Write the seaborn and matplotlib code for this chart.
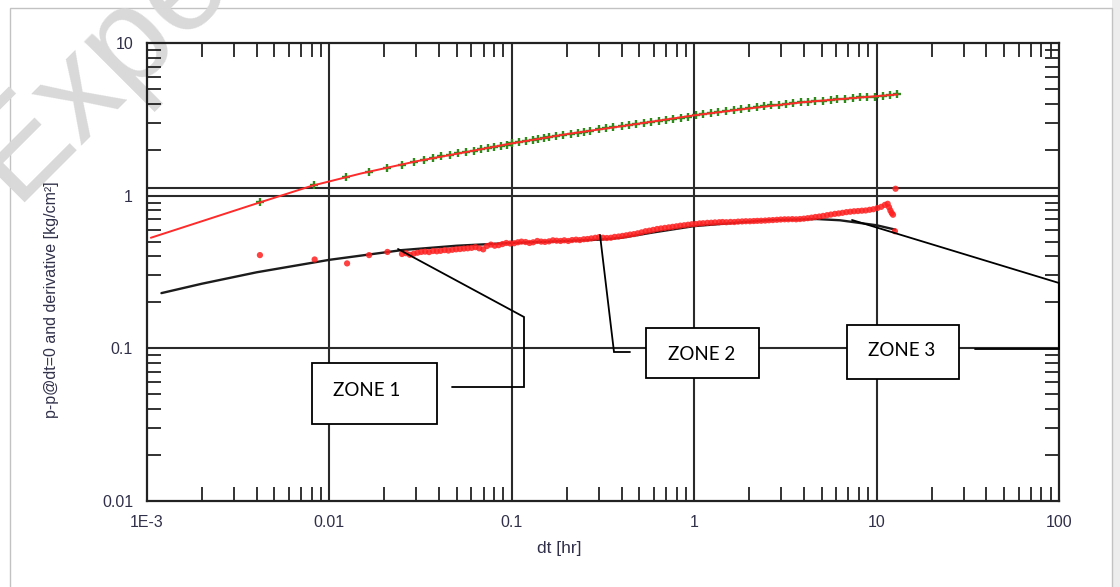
import numpy as np
import matplotlib
matplotlib.use("Agg")
import matplotlib.pyplot as plt
import seaborn as sns
from matplotlib.lines import Line2D
from matplotlib.patches import Rectangle
from matplotlib.ticker import FixedLocator, FixedFormatter, LogLocator, NullFormatter

# ---------------- data ----------------
# pressure change data (green +)
press_dt = [0.00416, 0.00824, 0.0124, 0.0165, 0.0206, 0.0249, 0.029, 0.033, 0.037, 0.041,
            0.046, 0.051, 0.056, 0.062, 0.068, 0.074, 0.080, 0.087, 0.094, 0.10,
            0.11, 0.12, 0.13, 0.14, 0.15, 0.16, 0.175, 0.19, 0.21, 0.23,
            0.25, 0.27, 0.30, 0.33, 0.36, 0.40, 0.44, 0.48, 0.53, 0.58,
            0.64, 0.70, 0.77, 0.85, 0.93, 1.02, 1.12, 1.23, 1.35, 1.5,
            1.65, 1.8, 2.0, 2.2, 2.4, 2.65, 2.9, 3.2, 3.5, 3.85,
            4.2, 4.6, 5.1, 5.6, 6.1, 6.7, 7.4, 8.1, 8.9, 9.8,
            10.8, 11.8, 13.0]
press_val = [0.91, 1.17, 1.33, 1.42, 1.52, 1.60, 1.67, 1.72, 1.77, 1.81,
             1.85, 1.89, 1.93, 1.97, 2.01, 2.05, 2.08, 2.12, 2.16, 2.20,
             2.24, 2.28, 2.32, 2.35, 2.39, 2.42, 2.46, 2.50, 2.55, 2.59,
             2.63, 2.67, 2.72, 2.76, 2.80, 2.85, 2.90, 2.94, 2.99, 3.03,
             3.08, 3.13, 3.18, 3.24, 3.30, 3.36, 3.41, 3.46, 3.51, 3.57,
             3.62, 3.67, 3.73, 3.79, 3.84, 3.90, 3.95, 4.00, 4.04, 4.08,
             4.12, 4.16, 4.20, 4.24, 4.28, 4.32, 4.36, 4.40, 4.43, 4.46,
             4.50, 4.54, 4.60]

# pressure model (red line)
pmodel_dt = [0.00105, 0.002, 0.004, 0.008, 0.015, 0.03, 0.06, 0.1, 0.2, 0.4, 1.0, 2.0, 4.0, 8.0, 13.0]
pmodel_val = [0.53, 0.68, 0.89, 1.16, 1.40, 1.68, 1.96, 2.20, 2.53, 2.85, 3.36, 3.73, 4.10, 4.39, 4.60]

# derivative model (black line)
dmodel_dt = [0.0012, 0.002, 0.004, 0.01, 0.025, 0.05, 0.1, 0.2, 0.3, 0.4, 0.6, 1.0, 2.5, 4.7, 6.3, 10.0, 12.6]
dmodel_val = [0.23, 0.265, 0.315, 0.38, 0.44, 0.47, 0.49, 0.505, 0.515, 0.53, 0.575, 0.632, 0.69, 0.703, 0.69, 0.64, 0.60]

# derivative data (red dots)
deriv_dt = [0.00416, 0.0083, 0.0125, 0.0165, 0.0208,
            0.025, 0.0263, 0.0276, 0.029, 0.0304, 0.0319, 0.0335, 0.0352, 0.037, 0.0388,
            0.0407, 0.0428, 0.0449, 0.0472, 0.0495, 0.052, 0.0546, 0.0573, 0.0602, 0.0632,
            0.0663, 0.0697, 0.0731, 0.0768, 0.0806, 0.0847, 0.0889, 0.0933, 0.098,
            0.103, 0.108, 0.113, 0.119, 0.125, 0.131, 0.138, 0.145, 0.152, 0.16,
            0.168, 0.176, 0.185, 0.194, 0.204, 0.214, 0.225, 0.236, 0.248, 0.26,
            0.273, 0.287, 0.301, 0.316, 0.332, 0.349, 0.366, 0.385, 0.404, 0.424,
            0.445, 0.467, 0.49, 0.515, 0.541, 0.568, 0.596, 0.626, 0.657, 0.69,
            0.725, 0.761, 0.799, 0.839, 0.881, 0.925, 0.971,
            1.02, 1.07, 1.12, 1.18, 1.24, 1.3, 1.37, 1.43, 1.5, 1.58,
            1.66, 1.74, 1.83, 1.92, 2.02, 2.12, 2.22, 2.33, 2.45, 2.57,
            2.7, 2.84, 2.98, 3.13, 3.28, 3.45, 3.62, 3.8, 3.99, 4.19,
            4.4, 4.62, 4.85, 5.09, 5.35, 5.61, 5.9, 6.19, 6.5, 6.83,
            7.17, 7.52, 7.9, 8.3, 8.71, 9.15, 9.6, 10.1, 10.6, 11.1,
            11.5, 11.7, 11.9, 12.1, 12.3, 12.6, 12.7]
deriv_val = [0.408, 0.382, 0.36, 0.408, 0.428,
             0.415, 0.42, 0.41, 0.417, 0.423, 0.428, 0.43, 0.427, 0.434, 0.432,
             0.435, 0.44, 0.437, 0.442, 0.445, 0.447, 0.45, 0.452, 0.455, 0.46,
             0.452, 0.445, 0.468, 0.478, 0.47, 0.474, 0.482, 0.49, 0.486,
             0.488, 0.495, 0.50, 0.497, 0.49, 0.495, 0.505, 0.50, 0.498, 0.502,
             0.51, 0.507, 0.505, 0.51, 0.505, 0.512, 0.515, 0.512, 0.518, 0.52,
             0.525, 0.53, 0.535, 0.53, 0.528, 0.53, 0.537, 0.54, 0.545, 0.55,
             0.556, 0.56, 0.567, 0.575, 0.585, 0.59, 0.597, 0.605, 0.61, 0.615,
             0.62, 0.625, 0.63, 0.636, 0.64, 0.645, 0.65,
             0.652, 0.658, 0.66, 0.664, 0.665, 0.668, 0.67, 0.672, 0.67, 0.673,
             0.672, 0.676, 0.678, 0.68, 0.68, 0.682, 0.684, 0.685, 0.687, 0.69,
             0.692, 0.695, 0.698, 0.70, 0.70, 0.702, 0.70, 0.703, 0.707, 0.712,
             0.718, 0.725, 0.73, 0.737, 0.745, 0.752, 0.76, 0.765, 0.772, 0.78,
             0.785, 0.79, 0.793, 0.797, 0.80, 0.808, 0.815, 0.83, 0.845, 0.87,
             0.885, 0.84, 0.80, 0.77, 0.75, 0.585, 1.11]

x_ticks = [0.001, 0.01, 0.1, 1, 10, 100]
x_ticklabels = ["1E-3", "0.01", "0.1", "1", "10", "100"]
y_ticks = [0.01, 0.1, 1, 10]
y_ticklabels = ["0.01", "0.1", "1", "10"]
grid_x = [0.01, 0.1, 1, 10]
grid_y = [0.1, 1, 1.13]

zone_labels = ["ZONE 1", "ZONE 2", "ZONE 3"]

# ---------------- style ----------------
sns.set_style("white")
plt.rcParams['font.family'] = ['Liberation Sans', 'DejaVu Sans']

W, H = 1120, 587
fig = plt.figure(figsize=(W / 100, H / 100), dpi=100)
fig.patch.set_facecolor("white")


def P(x, y):
    return (x / W, 1 - y / H)


# picture frame / shadow
fig.add_artist(Rectangle(P(1112, 600), 8 / W, 600 / H, transform=fig.transFigure,
                         facecolor="#ededed", edgecolor="none", zorder=-2))
fig.add_artist(Rectangle(P(10, 600), 1102 / W, 592 / H, transform=fig.transFigure,
                         facecolor="none", edgecolor="#c2c2c2", lw=1.0, zorder=-2))

# watermark
fig.text(14 / W, 1 - 202 / H, "Expert", rotation=45, rotation_mode="anchor",
         ha="left", va="baseline", fontsize=98, color="#d9d9d9",
         family=["Liberation Sans", "DejaVu Sans"], zorder=-1)

ax = fig.add_axes([147 / W, 1 - 501 / H, 912 / W, 458 / H])
ax.set_facecolor("none")
ax.set_xscale("log")
ax.set_yscale("log")
ax.set_xlim(1e-3, 100)
ax.set_ylim(0.01, 10)

gcol = "#2a2a2a"
for gx in grid_x:
    ax.axvline(gx, color=gcol, lw=1.5, zorder=1)
for gy in grid_y:
    ax.axhline(gy, color=gcol, lw=1.5, zorder=1)

sns.lineplot(x=dmodel_dt, y=dmodel_val, color="#1c1c1c", lw=1.7, ax=ax,
             estimator=None, sort=False, zorder=3)
sns.scatterplot(x=press_dt, y=press_val, marker="+", s=40, color="#2f8a1c",
                linewidth=1.7, ax=ax, zorder=3)
sns.lineplot(x=pmodel_dt, y=pmodel_val, color="#ff2a2a", lw=1.4, ax=ax,
             estimator=None, sort=False, zorder=4)
sns.scatterplot(x=deriv_dt, y=deriv_val, marker="o", s=20, color="#ff1f1f",
                edgecolor="none", alpha=0.85, ax=ax, zorder=5)

ax.xaxis.set_major_locator(FixedLocator(x_ticks))
ax.xaxis.set_major_formatter(FixedFormatter(x_ticklabels))
ax.yaxis.set_major_locator(FixedLocator(y_ticks))
ax.yaxis.set_major_formatter(FixedFormatter(y_ticklabels))
ax.xaxis.set_minor_locator(LogLocator(base=10, subs=np.arange(2, 10), numticks=20))
ax.yaxis.set_minor_locator(LogLocator(base=10, subs=np.arange(2, 10), numticks=20))
ax.xaxis.set_minor_formatter(NullFormatter())
ax.yaxis.set_minor_formatter(NullFormatter())

ax.tick_params(which="minor", direction="in", length=10, width=1.3, color="#222222",
               top=True, right=True, bottom=True, left=True)
ax.tick_params(which="major", direction="in", length=0, labelsize=11.5,
               labelcolor="#30304a")
ax.tick_params(axis="x", which="major", pad=10)
ax.tick_params(axis="y", which="major", pad=10)

for s in ax.spines.values():
    s.set_visible(True)
    s.set_color("#222222")
    s.set_linewidth(1.6)

ax.set_xlabel("dt [hr]", fontsize=12.5, color="#30304a", va="center")
ax.xaxis.set_label_coords((559 - 147) / 912, (501 - 548) / 458)
ax.set_ylabel("p-p@dt=0 and derivative [kg/cm²]", fontsize=11.5, color="#30304a", va="center")
ax.yaxis.set_label_coords((52 - 147) / 912, (501 - 300) / 458)

# ---------------- callouts ----------------
def path(pts):
    xs = [p[0] / W for p in pts]
    ys = [1 - p[1] / H for p in pts]
    fig.add_artist(Line2D(xs, ys, transform=fig.transFigure, color="black",
                          lw=1.3, zorder=6, solid_joinstyle="miter"))


def box(x0, y0, x1, y1, label, tx, ty):
    fig.add_artist(Rectangle(P(x0, y1), (x1 - x0) / W, (y1 - y0) / H,
                             transform=fig.transFigure, facecolor="white",
                             edgecolor="black", lw=1.3, zorder=7))
    fig.text(tx / W, 1 - ty / H, label, ha="center", va="center", fontsize=13.5,
             color="black", family=["Lato", "DejaVu Sans"], zorder=8)


path([(398, 249), (524, 317), (524, 387), (452, 387)])
box(312, 363, 437, 424, zone_labels[0], 367, 390)

path([(600, 235), (614, 352), (630, 352)])
box(646, 328, 759, 378, zone_labels[1], 702, 354)

path([(852, 220), (1059, 283), (1059, 349), (975, 349)])
box(847, 325, 959, 379, zone_labels[2], 902, 351)

fig.savefig("out.png", dpi=100)
